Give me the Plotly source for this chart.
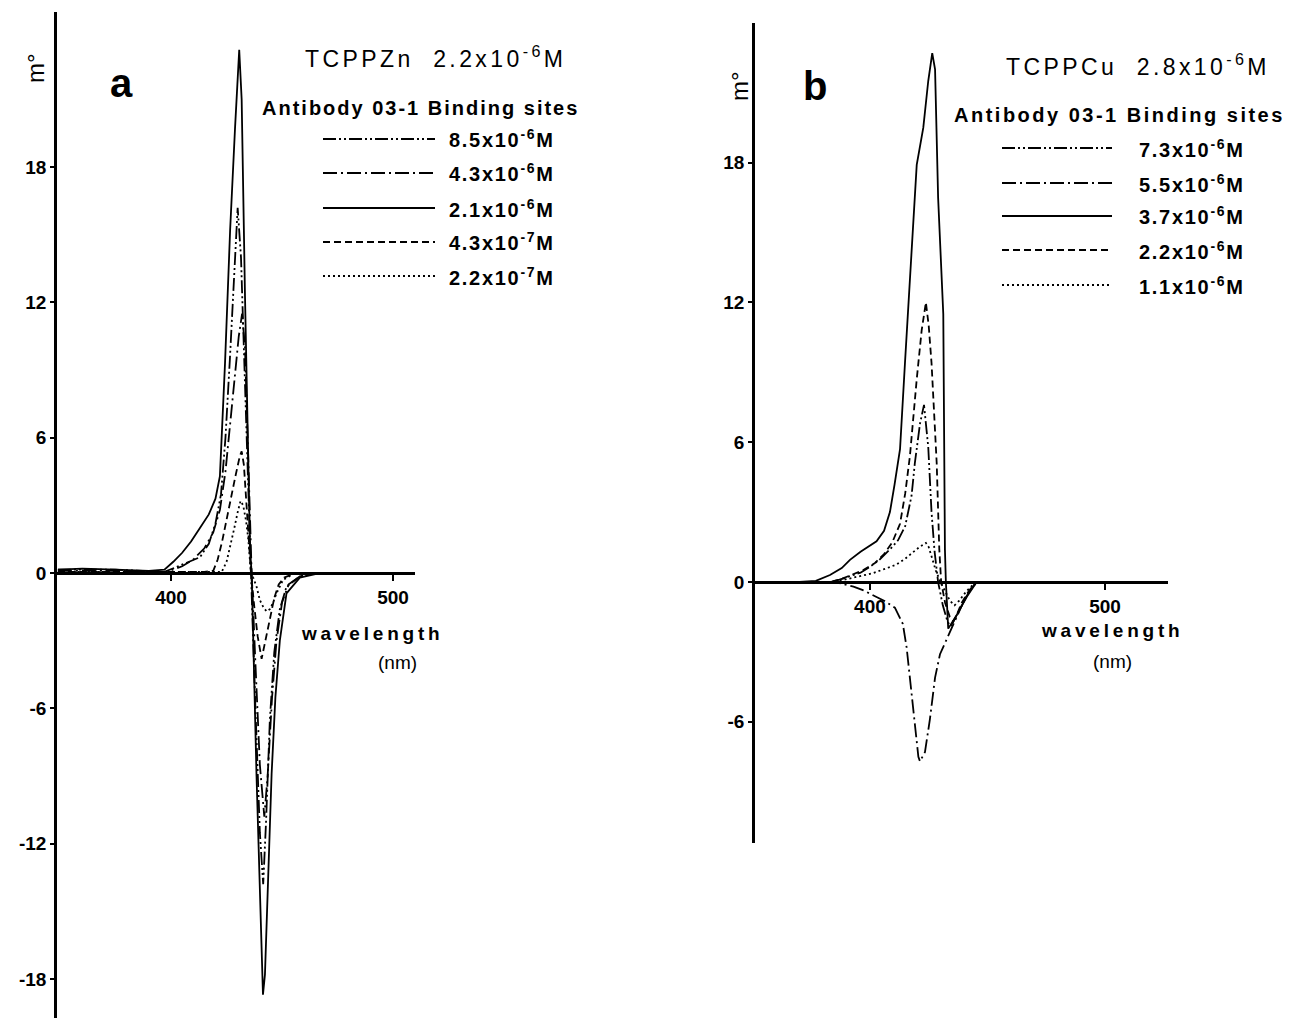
import plotly.graph_objects as go

W, H = 1293, 1019

# ---------------- DATA ----------------
# Panel a: TCPPZn 2.2x10^-6 M, antibody binding-site concentrations
a_labels = ["8.5x10<sup>-6</sup>M", "4.3x10<sup>-6</sup>M", "2.1x10<sup>-6</sup>M",
            "4.3x10<sup>-7</sup>M", "2.2x10<sup>-7</sup>M"]

a_wl_85 = [349, 375, 397, 403, 408, 413, 417, 420, 422.5, 424.5, 426.5, 428.5, 430, 431.5, 433,
           434.5, 436, 438, 440, 441.5, 442.8, 444.5, 446.5, 449, 452, 458, 465, 510]
a_val_85 = [0.15, 0.15, 0.05, 0.3, 0.5, 0.7, 1.3, 2.2, 3.5, 6.0, 9.5, 13.5, 16.2, 14.0, 9.0,
            4.0, 0.0, -6.0, -11.5, -13.8, -11.0, -6.5, -3.5, -1.6, -0.6, -0.15, 0.0, 0.0]

a_wl_43 = [349, 375, 398, 405, 410, 415, 419, 422, 424.5, 426.5, 428.5, 430.5, 432, 433.3,
           434.5, 435.5, 436.3, 438, 440, 442, 443.5, 445.5, 447.5, 450, 453, 458, 465, 510]
a_val_43 = [0.1, 0.1, 0.05, 0.3, 0.6, 1.1, 1.8, 2.8, 4.5, 6.5, 8.5, 10.5, 11.5, 10.0,
            6.0, 2.0, 0.0, -4.0, -8.5, -10.8, -9.0, -5.5, -3.0, -1.3, -0.5, -0.15, 0.0, 0.0]

a_wl_21 = [349, 360, 375, 390, 397, 401, 405, 409, 413, 417, 420, 422, 424.3, 426.6, 428.8,
           430.7, 431.8, 433.3, 435.6, 436.3, 438.5, 440.8, 441.4, 442.3, 443.8, 445.3, 447,
           449, 452, 458, 465, 480, 510]
a_val_21 = [0.15, 0.2, 0.15, 0.1, 0.15, 0.5, 0.9, 1.4, 2.0, 2.6, 3.3, 4.3, 9.3, 15.2, 19.7,
            23.2, 21.0, 12.3, 1.0, 0.0, -9.0, -17.5, -18.7, -17.8, -13.0, -8.9, -5.5,
            -3.0, -0.9, -0.2, -0.05, 0.0, 0.0]

a_wl_043 = [349, 400, 415, 419, 421, 423, 425, 427, 429, 431, 431.8, 432.8, 434, 435.2, 436,
            437.5, 439, 440.8, 442.5, 444.5, 446.5, 448.5, 451, 456, 510]
a_val_043 = [0.05, 0.05, 0.05, 0.1, 0.6, 1.4, 2.4, 3.4, 4.3, 5.2, 5.4, 4.8, 3.0, 1.0, 0.0,
             -1.5, -2.8, -3.8, -3.0, -2.0, -1.1, -0.5, -0.2, 0.0, 0.0]

a_wl_022 = [349, 415, 422.8, 425, 427, 428.5, 430, 431.3, 432.5, 433.8, 434.8, 435.8, 437,
            438.5, 440, 441.5, 443, 444.5, 446, 447.5, 450.5, 455, 510]
a_val_022 = [0.05, 0.05, 0.05, 0.5, 1.3, 2.0, 2.7, 3.2, 3.0, 2.3, 1.5, 0.2, -0.2,
             -0.6, -1.2, -1.5, -1.7, -1.6, -1.3, -0.9, -0.3, -0.05, 0.0]

# Panel b: TCPPCu 2.8x10^-6 M
b_labels = ["7.3x10<sup>-6</sup>M", "5.5x10<sup>-6</sup>M", "3.7x10<sup>-6</sup>M",
            "2.2x10<sup>-6</sup>M", "1.1x10<sup>-6</sup>M"]

b_wl_73 = [351, 383, 387, 392, 396, 400, 404, 408.5, 412, 415, 417.7, 419.1, 421.3, 423,
           424.8, 426.2, 427.5, 429, 431, 433, 434.3, 436, 439, 442, 445.4, 460, 527]
b_val_73 = [0.0, 0.0, 0.1, 0.25, 0.4, 0.65, 0.95, 1.4, 1.8, 2.4, 3.7, 5.1, 6.8, 7.6,
            5.8, 3.0, 1.3, 0.0, -1.0, -1.7, -1.9, -1.6, -1.0, -0.45, 0.0, 0.0, 0.0]

b_wl_55 = [351, 383, 387, 393, 397, 402, 406, 410.6, 414, 415.6, 417, 419, 420.6, 421.3,
           423.4, 425.5, 427.7, 429.8, 433.3, 435.5, 437.5, 440, 443, 445.4, 460, 527]
b_val_55 = [0.0, 0.0, -0.05, -0.2, -0.35, -0.6, -0.8, -1.1, -1.8, -2.8, -4.2, -6.2, -7.5, -7.7,
            -7.3, -5.9, -4.1, -3.1, -2.3, -1.8, -1.3, -0.8, -0.3, 0.0, 0.0, 0.0]

b_wl_37 = [351, 370, 377, 383, 388, 391.5, 396, 402.8, 406, 408.5, 410.5, 412.8, 414.9, 417,
           419.9, 422.7, 424.8, 426.5, 427.7, 429, 431.2, 431.9, 432.3, 433.3, 434.5, 437,
           441.2, 445.4, 460, 527]
b_val_37 = [0.0, 0.0, 0.05, 0.3, 0.6, 0.95, 1.3, 1.75, 2.2, 3.0, 4.2, 5.7, 9.4, 12.9,
            17.9, 19.5, 21.5, 22.7, 22.0, 16.5, 11.5, 1.4, 0.0, -2.0, -1.8, -1.4,
            -0.63, 0.0, 0.0, 0.0]

b_wl_22 = [351, 383, 387, 392, 397, 402, 406, 409.5, 412.8, 415, 417, 419.9, 422, 423.8, 425,
           426.2, 428.4, 429.5, 430.3, 432, 434, 435.5, 437, 439, 442, 445, 460, 527]
b_val_22 = [0.0, 0.0, 0.1, 0.3, 0.5, 0.8, 1.2, 1.7, 2.5, 3.8, 5.4, 8.7, 10.8, 12.0, 11.0,
            9.4, 5.1, 1.4, 0.0, -0.9, -1.5, -1.7, -1.4, -0.9, -0.4, 0.0, 0.0, 0.0]

b_wl_11 = [351, 383, 387, 395, 401.3, 406, 411.3, 415, 418.4, 421, 423.8, 425, 426.5, 428,
           430, 432, 434, 436, 438, 441, 444, 446, 527]
b_val_11 = [0.0, 0.0, 0.05, 0.25, 0.38, 0.55, 0.75, 1.0, 1.3, 1.5, 1.68, 1.5, 1.0, 0.5,
            0.0, -0.4, -0.8, -1.0, -0.8, -0.4, -0.1, 0.0, 0.0]

y_ticks_a = [-18, -12, -6, 0, 6, 12, 18]
y_ticks_b = [-6, 0, 6, 12, 18]
x_ticks = [400, 500]

# ---------------- STYLE ----------------
DASH_DD = "13px,3px,2px,3px,2px,3px"
DASH_D = "14px,4px,2px,4px"
DASH_DASH = "7px,4px"
DASH_DOT = "2px,3px"
dashes = [DASH_DD, DASH_D, "solid", DASH_DASH, DASH_DOT]
FONT = "Liberation Sans, Arial, Helvetica, sans-serif"


def px(x):
    return x / W


def py(y):
    return 1 - y / H


fig = go.Figure()

a_series = [(a_wl_85, a_val_85), (a_wl_43, a_val_43), (a_wl_21, a_val_21),
            (a_wl_043, a_val_043), (a_wl_022, a_val_022)]
b_series = [(b_wl_73, b_val_73), (b_wl_55, b_val_55), (b_wl_37, b_val_37),
            (b_wl_22, b_val_22), (b_wl_11, b_val_11)]

for (wl, val), d in zip(a_series, dashes):
    fig.add_trace(go.Scatter(x=wl, y=val, mode="lines", xaxis="x", yaxis="y",
                             line=dict(color="black", width=1.8, dash=d),
                             showlegend=False, hoverinfo="skip"))
for (wl, val), d in zip(b_series, dashes):
    fig.add_trace(go.Scatter(x=wl, y=val, mode="lines", xaxis="x2", yaxis="y2",
                             line=dict(color="black", width=1.8, dash=d),
                             showlegend=False, hoverinfo="skip"))

axis_common = dict(showgrid=False, zeroline=False, showline=True, linecolor="black",
                   linewidth=2.5, ticks="outside", tickcolor="black", tickwidth=2,
                   tickfont=dict(family=FONT, size=19, color="black", weight="bold"))

fig.update_layout(
    width=W, height=H, margin=dict(l=0, r=0, t=0, b=0),
    paper_bgcolor="white", plot_bgcolor="rgba(0,0,0,0)",
    xaxis=dict(domain=[px(57), px(415)], range=[348.6, 509.9], anchor="free",
               position=py(573), ticklen=6, tickvals=x_ticks,
               ticktext=[str(v) for v in x_ticks], **axis_common),
    yaxis=dict(domain=[py(1018), py(12)], range=[-19.73, 24.88], anchor="x",
               ticklen=4, tickvals=y_ticks_a, ticktext=[str(v) for v in y_ticks_a],
               **axis_common),
    xaxis2=dict(domain=[px(755), px(1168)], range=[351.1, 526.8], anchor="free",
                position=py(582), ticklen=6, tickvals=x_ticks,
                ticktext=[str(v) for v in x_ticks], **axis_common),
    yaxis2=dict(domain=[py(843), py(23)], range=[-11.2, 23.99], anchor="x2",
                ticklen=4, tickvals=y_ticks_b, ticktext=[str(v) for v in y_ticks_b],
                **axis_common),
)

annotations = []
shapes = []


def text(x, y, s, size, bold=False, xanchor="center", angle=0, spacing=None):
    if spacing:
        s = f'<span style="letter-spacing:{spacing}px;font-size:{size}px">{s}</span>'
    annotations.append(dict(x=px(x), y=py(y), xref="paper", yref="paper", text=s,
                            showarrow=False, xanchor=xanchor, yanchor="middle",
                            textangle=angle,
                            font=dict(family=FONT, size=size, color="black",
                                      weight="bold" if bold else "normal")))


def panel(cfg):
    text(cfg["m"][0], cfg["m"][1], "m°", 24, angle=-90)
    text(cfg["letter_xy"][0], cfg["letter_xy"][1], cfg["letter"], 40, bold=True)
    text(cfg["title_x"], cfg["title_y"], cfg["title"], 23, xanchor="left", spacing=3.4)
    text(cfg["ab_x"], cfg["ab_y"], "Antibody 03-1 Binding sites", 20, bold=True,
         xanchor="left", spacing=cfg["ab_sp"])
    for i, (lab, d) in enumerate(zip(cfg["labels"], dashes)):
        yy = cfg["rows"][i]
        shapes.append(dict(type="line", xref="paper", yref="paper",
                           x0=px(cfg["lx0"]), x1=px(cfg["lx1"]), y0=py(yy), y1=py(yy),
                           line=dict(color="black", width=1.8, dash=d)))
        text(cfg["tx"], yy, lab, 20, bold=True, xanchor="left", spacing=1.7)
    text(cfg["wl"][0], cfg["wl"][1], "wavelength", 19, bold=True, spacing=3.8)
    text(cfg["nm"][0], cfg["nm"][1], "(nm)", 19)


panel(dict(m=(36, 68), letter="a", letter_xy=(121, 83),
           title="TCPPZn  2.2x10<sup>-6</sup>M", title_x=303, title_y=57,
           ab_x=260, ab_y=108, ab_sp=2.0, labels=a_labels, rows=[139, 173, 208, 242, 276],
           lx0=323, lx1=435, tx=447, wl=(372, 633), nm=(397, 662)))
panel(dict(m=(739, 86), letter="b", letter_xy=(815, 86),
           title="TCPPCu  2.8x10<sup>-6</sup>M", title_x=1004, title_y=65,
           ab_x=952, ab_y=115, ab_sp=2.5, labels=b_labels, rows=[148, 183, 216, 250, 285],
           lx0=1002, lx1=1112, tx=1137, wl=(1112, 630), nm=(1112, 661)))

fig.update_layout(annotations=annotations, shapes=shapes)
fig.write_html("out.html", config={"displayModeBar": False},
               post_script="document.body.style.margin='0px';")
